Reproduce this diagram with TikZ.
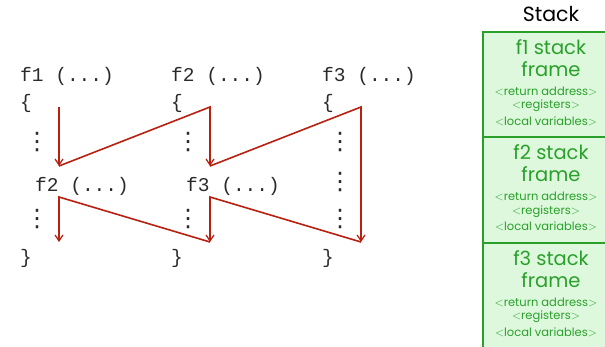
\documentclass[tikz,border=0pt]{standalone}
\usepackage{fontspec}
\setmainfont{Poppins}
\newfontfamily\codefont{Liberation Mono}
\newfontfamily\dotfont{DejaVu Sans}
\usetikzlibrary{arrows.meta}
\definecolor{callred}{HTML}{B82010}
\definecolor{framegreen}{HTML}{2AA02A}
\definecolor{framefill}{HTML}{DDF8DD}
\definecolor{codegray}{HTML}{2A2A2A}
\tikzset{
  code/.style={font=\codefont\fontsize{19.5}{22}\selectfont, text=codegray, inner sep=0pt, anchor=west},
  vdot/.style={font=\dotfont\fontsize{24}{26}\selectfont, text=codegray, inner sep=0pt},
  callline/.style={draw=callred, line width=1.6pt, line join=miter},
  calltip/.style={-{Straight Barb[length=6pt,width=8pt,line width=1.2pt]}},
  stackbox/.style={draw=framegreen, fill=framefill, line width=1.2pt},
  bigtxt/.style={text=framegreen, font=\fontsize{19.5}{22}\selectfont, inner sep=0pt},
  smalltxt/.style={text=framegreen, font=\fontsize{11.5}{13}\selectfont, inner sep=0pt},
}
\begin{document}
\begin{tikzpicture}[x=1pt,y=-1pt]
\useasboundingbox (0,0) rectangle (605,346);
\clip (0,0) rectangle (605,346);
% stack
\node[text=black, font=\fontsize{20.5}{22}\selectfont, inner sep=0pt] (stacktitle) at (551,14) {Stack};
\draw[stackbox] (483,32) rectangle (630,137);
\draw[stackbox] (483,137) rectangle (630,243);
\draw[stackbox] (483,243) rectangle (630,360);
\foreach \i/\y in {1/0,2/105.5,3/211}{
  \node[bigtxt] (s\i a) at (551,47+\y) {f\i\ stack};
  \node[bigtxt] (s\i b) at (551,69+\y) {frame};
  \node[smalltxt] (s\i c) at (546,91+\y) {$<$return address$>$};
  \node[smalltxt] (s\i d) at (546,106+\y) {$<$registers$>$};
  \node[smalltxt] (s\i e) at (546,121+\y) {$<$local variables$>$};
}
% code columns
\node[code] (c1h) at (20,76) {f1 (...)};
\node[code] (c1o) at (20,103) {\{};
\node[vdot] (c1d1) at (37,142) {⋮};
\node[code] (c1f) at (35,186) {f2 (...)};
\node[vdot] (c1d2) at (37,219) {⋮};
\node[code] (c1c) at (20,258) {\}};

\node[code] (c2h) at (171,76) {f2 (...)};
\node[code] (c2o) at (171,103) {\{};
\node[vdot] (c2d1) at (188,142) {⋮};
\node[code] (c2f) at (186,186) {f3 (...)};
\node[vdot] (c2d2) at (188,219) {⋮};
\node[code] (c2c) at (171,258) {\}};

\node[code] (c3h) at (322,76) {f3 (...)};
\node[code] (c3o) at (322,103) {\{};
\node[vdot] (c3d1) at (340,142) {⋮};
\node[vdot] (c3d2) at (340,182) {⋮};
\node[vdot] (c3d3) at (340,219) {⋮};
\node[code] (c3c) at (322,258) {\}};
% control flow
\coordinate (p1) at (59,107);
\coordinate (p2) at (59,166);
\coordinate (p3) at (210,107);
\coordinate (p4) at (210,166);
\coordinate (p5) at (361,107);
\coordinate (p6) at (361,242);
\coordinate (p7) at (210,197);
\coordinate (p8) at (210,242);
\coordinate (p9) at (59,197);
\coordinate (p10) at (59,242);
\draw[callline, calltip] (p1) -- (p2);
\draw[callline, calltip] (p2) -- (p3) -- (p4);
\draw[callline, calltip] (p4) -- (p5) -- (p6);
\draw[callline, calltip] (p6) -- (p7) -- (p8);
\draw[callline, calltip] (p8) -- (p9) -- (p10);
\end{tikzpicture}
\end{document}
